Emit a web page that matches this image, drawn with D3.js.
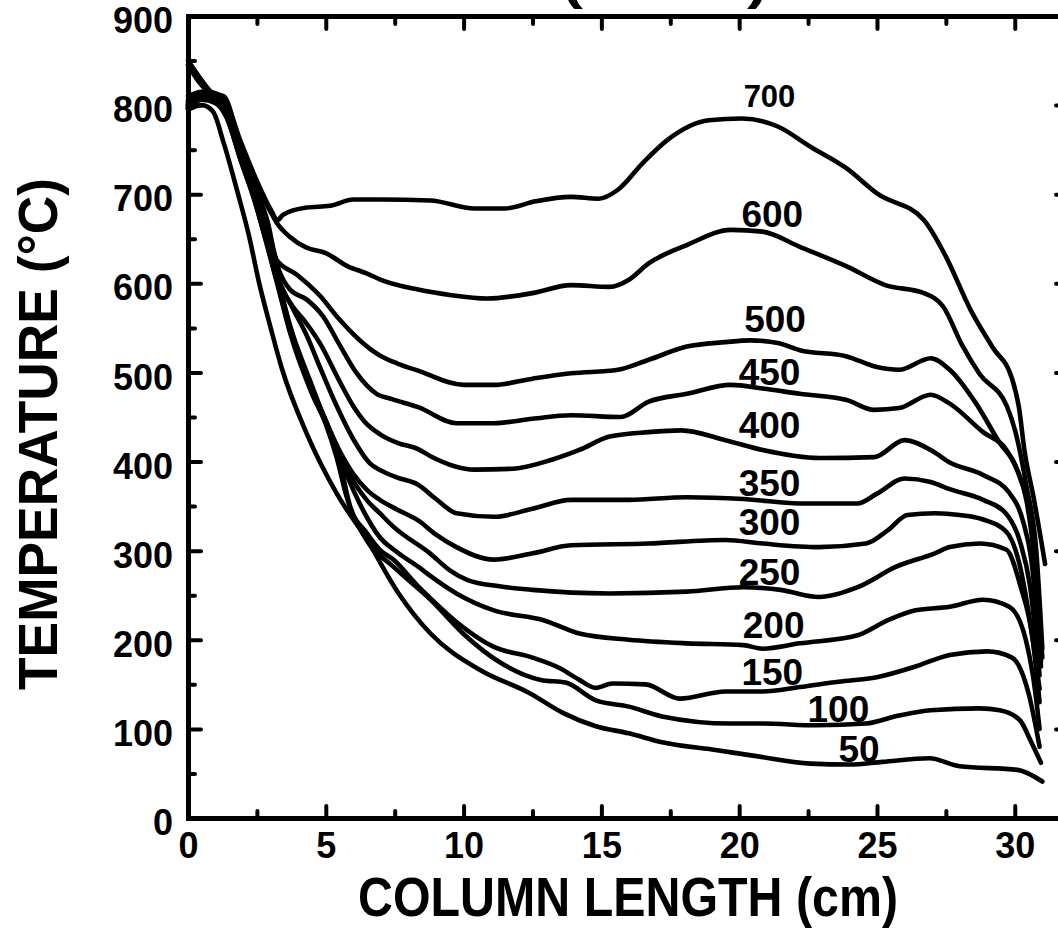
<!DOCTYPE html>
<html>
<head>
<meta charset="utf-8">
<script src="https://cdn.jsdelivr.net/npm/d3@7"></script>
<style>
    html, body { margin: 0; padding: 0; background: #fff; }
    svg { display: block; }
</style>
</head>
<body>
<div id="chart"></div>
<script>
/* Temperature profiles along the column, one curve per set point (°C) */

const CONFIG = {
    width: 1058,
    height: 930,
    ink: '#000',
    curveWidth: 4.6,
    axisWidth: 5,
    font: '"Liberation Sans", Arial, Helvetica, sans-serif'
};

// --- Data (column length in cm, temperature in °C) ---
const xMajorTicks = [0, 5, 10, 15, 20, 25, 30];
const xMinorTicks = [2.5, 7.5, 12.5, 17.5, 22.5, 27.5];
const yMajorTicks = [0, 100, 200, 300, 400, 500, 600, 700, 800, 900];
const yMinorTicks = [50, 150, 250, 350, 450, 550, 650, 750, 850];

const t700 = [[0,850],[0.4,832],[0.8,816],[1.3,808],[1.9,760],[2.4,722],[3.0,683],[3.25,671],[3.45,677],[4.3,685],[5.15,687],[6.0,694],[7.0,694],[8.8,693],[10.4,684],[11.5,684],[12.6,692],[13.9,697],[14.9,695],[15.6,705],[16.5,735],[17.4,761],[18.9,783],[20.1,785],[21.4,776],[22.6,753],[23.9,729],[25.0,701],[26.7,671],[27.5,630],[28.4,570],[29.2,528],[29.9,493],[30.15,461],[30.35,413],[30.7,357],[31.1,285]];
const t600 = [[0,845],[0.4,826],[0.8,814],[1.3,810],[1.9,755],[2.4,718],[3.0,680],[3.22,668],[3.7,652],[4.3,640],[5.0,634],[5.8,619],[6.5,611],[7.0,604],[8.35,593],[9.5,587],[10.85,583],[12.5,589],[13.9,598],[15.3,596],[16.0,604],[16.7,622],[18.1,643],[19.7,660],[20.85,658],[22.2,641],[23.9,619],[25.3,598],[26.7,589],[27.4,574],[28.1,530],[28.73,498],[29.7,463],[30.06,429],[30.42,373],[30.78,300],[31.0,190]];
const t500 = [[0,810],[0.5,815],[0.9,814],[1.3,806],[1.9,752],[2.4,712],[2.9,668],[3.22,626],[3.94,610],[4.79,586],[5.45,561],[6.2,537],[6.96,519],[7.6,510],[8.35,502],[10.0,486],[11.1,486],[12.5,493],[13.9,499],[15.6,503],[16.7,514],[18.1,529],[19.5,534],[20.4,536],[21.4,533],[22.2,525],[23.9,518],[25.0,506],[25.8,503],[26.95,516],[27.64,503],[28.6,465],[29.45,421],[30.06,393],[30.42,357],[30.75,280],[31.0,180]];
const t450 = [[0,805],[0.5,813],[1.0,810],[1.4,796],[1.9,750],[2.4,708],[2.9,660],[3.3,615],[3.7,593],[4.3,582],[4.9,563],[5.5,531],[6.1,500],[6.84,476],[7.4,470],[8.35,461],[9.74,443],[11.1,443],[12.5,448],[13.9,452],[15.7,450],[16.7,467],[18.1,476],[19.7,486],[20.85,482],[22.2,476],[23.9,469],[24.9,458],[25.8,460],[26.95,475],[27.64,465],[28.85,433],[29.7,413],[30.2,381],[30.55,341],[30.95,175]];
const t400 = [[0,803],[0.5,812],[1.0,810],[1.4,795],[1.9,748],[2.4,705],[2.9,652],[3.3,603],[3.8,574],[4.2,559],[4.8,532],[5.5,490],[6.0,462],[6.4,445],[7.0,430],[7.6,421],[8.35,414],[8.8,406],[10.4,391],[11.8,392],[13.2,402],[14.2,413],[15.3,428],[16.7,433],[17.9,435],[19.5,424],[20.85,413],[22.9,404],[24.9,405],[26.0,424],[26.95,413],[27.64,399],[28.85,385],[29.8,365],[30.3,333],[30.6,290],[30.95,170]];
const t350 = [[0,801],[0.5,811],[1.0,808],[1.4,793],[1.9,746],[2.4,703],[2.9,649],[3.3,604],[3.8,572],[4.3,542],[4.8,505],[5.4,462],[6.0,425],[6.6,398],[7.0,390],[7.6,382],[8.35,374],[9.0,358],[9.74,342],[11.1,338],[12.5,347],[13.9,357],[16.0,357],[18.1,360],[20.15,358],[22.2,353],[24.3,353],[25.0,364],[26.0,381],[26.95,377],[27.64,369],[28.85,357],[29.7,341],[30.2,309],[30.55,261],[30.9,160]];
const t300 = [[0,800],[0.5,810],[1.0,806],[1.4,791],[1.9,744],[2.4,700],[2.9,646],[3.3,600],[3.7,553],[4.5,485],[5.0,445],[5.5,412],[6.0,386],[6.5,368],[6.96,357],[7.6,346],[8.35,334],[9.0,318],[9.74,304],[11.1,290],[12.5,297],[13.9,306],[16.7,308],[19.5,312],[20.85,308],[22.9,304],[24.6,308],[25.4,323],[26.1,340],[27.1,342],[28.0,340],[28.85,335],[29.7,321],[30.2,281],[30.55,221],[30.9,145]];
const t250 = [[0,799],[0.5,809],[1.0,805],[1.4,789],[1.9,742],[2.4,698],[2.9,644],[3.3,598],[3.7,551],[4.5,482],[5.0,446],[5.5,410],[5.76,392],[6.48,357],[6.96,342],[7.45,327],[8.78,297],[9.5,278],[10.15,267],[11.3,260],[12.5,256],[15.3,252],[18.1,254],[20.15,259],[21.5,256],[22.9,248],[24.3,259],[25.7,282],[27.1,297],[27.64,304],[28.73,308],[29.7,301],[30.2,261],[30.65,201],[30.9,130]];
const t200 = [[0,798],[0.5,808],[1.0,804],[1.4,788],[1.9,741],[2.4,697],[2.9,642],[3.3,596],[3.7,549],[4.5,480],[5.0,446],[5.5,405],[5.76,385],[6.36,345],[6.96,315],[7.6,298],[8.35,282],[8.78,272],[9.74,252],[11.1,233],[12.9,222],[14.2,207],[16.0,200],[18.1,196],[20.15,194],[20.85,190],[22.2,196],[24.3,205],[25.4,222],[26.4,233],[27.64,237],[28.85,245],[29.8,237],[30.4,200],[30.75,140],[30.9,100]];
const t150 = [[0,797],[0.5,807],[1.0,803],[1.4,787],[1.9,740],[2.4,695],[2.9,640],[3.3,594],[3.7,547],[4.5,478],[5.0,444],[5.5,400],[5.88,350],[6.48,320],[6.96,301],[7.45,290],[8.35,260],[8.78,247],[9.74,220],[11.1,192],[12.5,180],[13.5,168],[14.2,155],[14.8,146],[15.4,151],[16.6,150],[17.85,134],[19.5,142],[20.85,142],[22.2,147],[23.6,153],[25.0,158],[26.4,170],[27.64,183],[29.0,187],[29.9,180],[30.5,140],[30.9,80]];
const t100 = [[0,796],[0.5,806],[1.0,802],[1.4,786],[1.9,739],[2.4,694],[2.9,639],[3.3,592],[3.7,545],[4.5,476],[5.0,442],[5.39,405],[5.76,360],[6.48,312],[7.45,282],[8.8,245],[9.98,207],[11.2,177],[12.8,155],[13.7,152],[14.8,132],[16.0,125],[17.2,114],[19.7,106],[20.85,106],[22.8,104],[24.6,106],[25.8,115],[26.95,121],[28.73,123],[29.45,121],[30.18,110],[30.6,85],[30.95,62]];
const t50 = [[0,795],[0.5,800],[0.9,793],[1.3,757],[1.8,702],[2.2,655],[2.6,598],[3.0,550],[3.4,505],[4.3,432],[5.4,364],[6.5,312],[7.6,254],[8.8,207],[10.6,166],[12.4,140],[13.6,118],[14.8,103],[16.0,95],[17.2,85],[19.2,76],[20.5,70],[22.6,61],[24.0,60],[25.2,63],[26.9,67],[28.0,58],[30.1,54],[31.0,41]];

const setPoints = [700, 600, 500, 450, 400, 350, 300, 250, 200, 150, 100, 50];
const profiles = [t700, t600, t500, t450, t400, t350, t300, t250, t200, t150, t100, t50];
// where each curve's label sits (cm, °C of the label baseline)
const labelAnchors = [[21.1,798],[21.2,663],[21.3,545],[21.1,486],[21.1,426],[21.1,361],[21.1,318],[21.1,262],[21.25,202],[21.2,149],[23.6,108],[24.35,63]];

/* --- Chart --- */
const svg = d3.select('#chart').append('svg')
    .attr('width', CONFIG.width)
    .attr('height', CONFIG.height)
    .attr('font-family', CONFIG.font)
    .attr('font-weight', 'bold');

const xEnd = 31.75;
const x = d3.scaleLinear().domain([0, xEnd]).range([188, 1063]);
const y = d3.scaleLinear().domain([0, 900]).range([818, 16]);

function styleAxis(g, size) {
    g.select('.domain')
        .attr('stroke', CONFIG.ink)
        .attr('stroke-width', CONFIG.axisWidth)
        .attr('stroke-linecap', 'square');
    g.selectAll('.tick line')
        .attr('stroke', CONFIG.ink)
        .attr('stroke-width', 4)
        .attr('stroke-linecap', 'round');
    g.selectAll('.tick text')
        .attr('fill', CONFIG.ink)
        .attr('font-size', size)
        .attr('font-family', CONFIG.font)
        .attr('font-weight', 'bold');
}

function minorTicks(axis, size) {
    return g => {
        g.call(axis.tickSize(size).tickFormat(''));
        g.select('.domain').remove();
        g.selectAll('.tick line').attr('stroke', CONFIG.ink).attr('stroke-width', 4).attr('stroke-linecap', 'round');
    };
}

// minor ticks first, so the axis lines sit on top
svg.append('g').attr('transform', `translate(0,${y(0)})`)
    .call(minorTicks(d3.axisBottom(x).tickValues(xMinorTicks), -7));
svg.append('g').attr('transform', `translate(0,${y(900)})`)
    .call(minorTicks(d3.axisTop(x).tickValues(xMinorTicks), -8));
svg.append('g').attr('transform', `translate(${x(0)},0)`)
    .call(minorTicks(d3.axisLeft(y).tickValues(yMinorTicks), -7));
svg.append('g').attr('transform', `translate(${x(xEnd)},0)`)
    .call(minorTicks(d3.axisRight(y).tickValues(yMinorTicks), -3));

// bottom axis
svg.append('g')
    .attr('transform', `translate(0,${y(0)})`)
    .call(d3.axisBottom(x).tickValues(xMajorTicks).tickSize(-12).tickPadding(14).tickSizeOuter(0))
    .call(g => styleAxis(g, 36));

// top border
svg.append('g')
    .attr('transform', `translate(0,${y(900)})`)
    .call(d3.axisTop(x).tickValues(xMajorTicks).tickSize(-13).tickSizeOuter(0).tickFormat(''))
    .call(g => styleAxis(g, 0));

// left axis
svg.append('g')
    .attr('transform', `translate(${x(0)},0)`)
    .call(d3.axisLeft(y).tickValues(yMajorTicks).tickSize(-13).tickPadding(15).tickSizeOuter(0))
    .call(g => styleAxis(g, 36))
    .call(g => g.selectAll('.tick text').attr('dy', '0.46em'));

// right border (mostly beyond the picture edge)
svg.append('g')
    .attr('transform', `translate(${x(xEnd)},0)`)
    .call(d3.axisRight(y).tickValues(yMajorTicks).tickSize(-7).tickSizeOuter(0).tickFormat(''))
    .call(g => styleAxis(g, 0));

// curves
const line = d3.line()
    .x(d => x(d[0]))
    .y(d => y(d[1]))
    .curve(d3.curveMonotoneX);

svg.append('g')
    .selectAll('path')
    .data(profiles)
    .join('path')
    .attr('d', line)
    .attr('fill', 'none')
    .attr('stroke', CONFIG.ink)
    .attr('stroke-width', CONFIG.curveWidth)
    .attr('stroke-linecap', 'round')
    .attr('stroke-linejoin', 'round');

// curve labels
svg.append('g')
    .selectAll('text')
    .data(setPoints)
    .join('text')
    .attr('x', (d, i) => x(labelAnchors[i][0]))
    .attr('y', (d, i) => y(labelAnchors[i][1]))
    .attr('text-anchor', 'middle')
    .attr('font-size', d => d === 700 ? 31 : 37)
    .attr('fill', CONFIG.ink)
    .text(d => d);

// axis titles
svg.append('text')
    .attr('x', 628)
    .attr('y', 916)
    .attr('text-anchor', 'middle')
    .attr('font-size', 56)
    .attr('textLength', 540)
    .attr('lengthAdjust', 'spacingAndGlyphs')
    .attr('fill', CONFIG.ink)
    .text('COLUMN LENGTH (cm)');

svg.append('text')
    .attr('transform', 'translate(57,434) rotate(-90)')
    .attr('text-anchor', 'middle')
    .attr('font-size', 55)
    .attr('textLength', 512)
    .attr('lengthAdjust', 'spacingAndGlyphs')
    .attr('fill', CONFIG.ink)
    .text('TEMPERATURE (°C)');

// chart title, cut off by the top edge
svg.append('text')
    .attr('x', 665)
    .attr('y', -1)
    .attr('text-anchor', 'middle')
    .attr('font-size', 46)
    .attr('textLength', 206)
    .attr('lengthAdjust', 'spacingAndGlyphs')
    .attr('fill', CONFIG.ink)
    .text('(1 atm)');
</script>
</body>
</html>
